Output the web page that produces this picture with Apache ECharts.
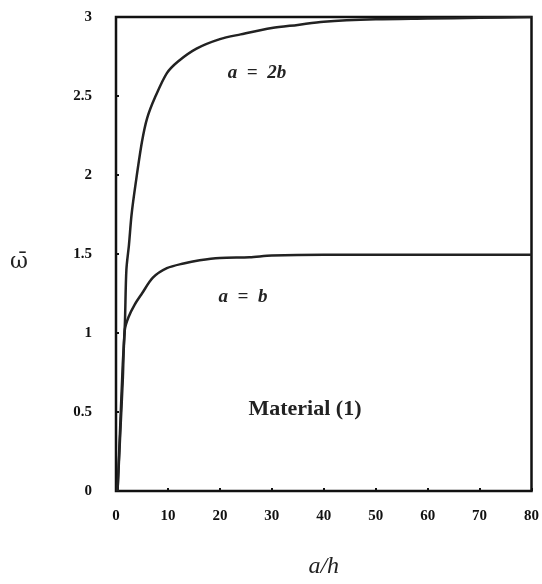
<!DOCTYPE html>
<html><head><meta charset="utf-8">
<script src="https://cdn.jsdelivr.net/npm/echarts@6/dist/echarts.min.js"></script>
<style>html,body{margin:0;padding:0;background:#fff}#c{width:542px;height:584px}</style>
</head><body><div id="c"></div>
<script>
const xTicks = [0,10,20,30,40,50,60,70,80];
const yTicks = [0,0.5,1,1.5,2,2.5,3];
const curve2bX = [0.3,0.8,1.3,1.7,2.0,2.5,3.0,3.8,5.0,6.0,7.5,9.8,12,15.5,20,24,30,35,40,50,60,70,80];
const curve2bY = [0,0.4,0.8,1.05,1.4,1.56,1.75,1.95,2.21,2.36,2.49,2.645,2.72,2.80,2.86,2.89,2.93,2.95,2.97,2.985,2.99,2.995,3.0];
const curveBX = [0.3,0.8,1.3,1.7,2.4,3.6,5.0,7.1,9.8,13,16.1,20,25.7,30,40,50,60,70,80];
const curveBY = [0,0.35,0.7,1.02,1.1,1.18,1.25,1.35,1.41,1.44,1.46,1.475,1.48,1.49,1.495,1.495,1.495,1.495,1.495];
const labels = [
  {text:'a\u2002=\u20022b', x:257, y:73, size:19, style:'italic', weight:'bold'},
  {text:'a\u2002=\u2002b', x:243, y:297, size:19, style:'italic', weight:'bold'},
  {text:'Material (1)', x:305, y:409, size:22, style:'normal', weight:'bold'}
];
const serif = '"Liberation Serif","DejaVu Serif",serif';
const chart = echarts.init(document.getElementById('c'));
const zip = (xs, ys) => xs.map((x,i)=>[x, ys[i]]);
const graphics = labels.map(l=>({type:'text',x:l.x,y:l.y,style:{text:l.text,textAlign:'center',textVerticalAlign:'middle',
    font:l.style+' '+l.weight+' '+l.size+'px '+serif,fill:'#222'}}));
graphics.push({type:'text',x:19,y:262,style:{text:'ω\u0304',textAlign:'center',textVerticalAlign:'middle',font:'normal 22px "DejaVu Serif",serif',fill:'#222'}});
chart.setOption({
  animation:false,
  grid:{left:116,right:9,top:17,bottom:84,show:true,borderColor:'#111',borderWidth:2.5,backgroundColor:'transparent'},
  xAxis:{type:'value',min:0,max:80,interval:10,
    name:'a/h',nameLocation:'middle',nameGap:64,
    nameTextStyle:{fontFamily:serif,fontStyle:'italic',fontSize:24,color:'#222'},
    axisLine:{show:false},
    axisTick:{show:true,inside:true,length:3,lineStyle:{color:'#111',width:2}},
    axisLabel:{fontFamily:serif,fontWeight:'bold',fontSize:15,color:'#111',margin:18},
    splitLine:{show:false}},
  yAxis:{type:'value',min:0,max:3,interval:0.5,
    axisLine:{show:false},
    axisTick:{show:true,inside:true,length:3,lineStyle:{color:'#111',width:2}},
    axisLabel:{fontFamily:serif,fontWeight:'bold',fontSize:15,color:'#111',margin:24},
    splitLine:{show:false}},
  series:[
    {type:'line',data:zip(curve2bX,curve2bY),smooth:0.3,showSymbol:false,lineStyle:{color:'#222',width:2.5}},
    {type:'line',data:zip(curveBX,curveBY),smooth:0.3,showSymbol:false,lineStyle:{color:'#222',width:2.5}}
  ],
  graphic: graphics
});
</script></body></html>
